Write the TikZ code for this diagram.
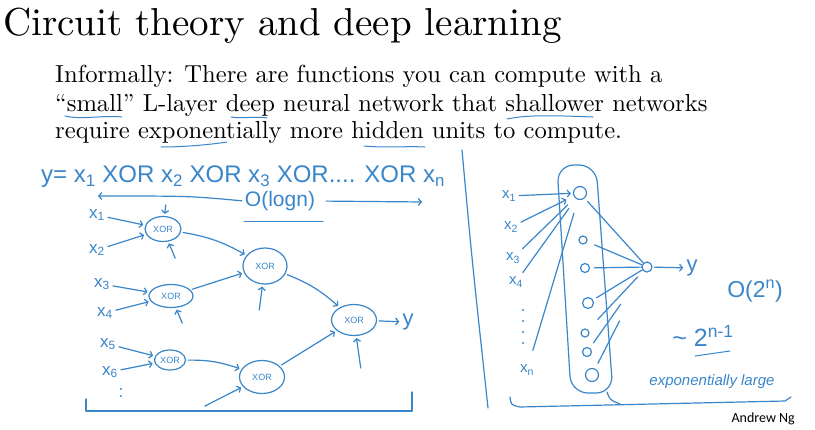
\documentclass[tikz,border=0pt]{standalone}
\usepackage{fontspec}
\usetikzlibrary{arrows.meta,shapes.geometric}
\newfontfamily\slidefont{lmroman10-regular}[Extension=.otf,Ligatures=TeX]
\newfontfamily\handfont{Liberation Sans}
\newfontfamily\credfont{Carlito}
\definecolor{pen}{HTML}{3A86CA}
\tikzset{ink/.style={draw=pen,line width=1.2pt,line cap=round,line join=round},
arr/.style={ink,-{Straight Barb[length=3pt,width=7pt]},shorten >=2pt,shorten <=2pt},
gate/.style={ellipse,ink,inner sep=0pt,text=pen,font=\handfont\fontsize{9}{9}\selectfont},
unit/.style={circle,ink,inner sep=0pt},
hand/.style={text=pen,inner sep=1pt,font=\handfont\fontsize{17}{17}\selectfont},
uline/.style={draw=pen,line width=1pt,line cap=round},
slide/.style={anchor=base west,inner sep=0pt,font=\slidefont\fontsize{24.6}{29}\selectfont}}
\begin{document}
\begin{tikzpicture}[x=1pt,y=-1pt]
\useasboundingbox[fill=white] (0,0) rectangle (815,429);
% slide text
\node[anchor=base west,inner sep=0pt,font=\slidefont\fontsize{39}{42}\selectfont] (title) at (3,35) {Circuit theory and deep learning};
\node[slide] (line1) at (55,82) {Informally: There are functions you can compute with a};
\node[slide] (line2) at (55,111) {``small'' L-layer deep neural network that shallower networks};
\node[slide] (line3) at (55,138) {require exponentially more hidden units to compute.};
\draw[uline] (65,116) .. controls (82,120) and (102,115) .. (122,117);
\draw[uline] (231,117) .. controls (243,119) and (256,116) .. (267,118);
\draw[uline] (507,119) .. controls (530,114) and (563,116) .. (593,117);
\draw[uline] (161,147) .. controls (183,147) and (207,145) .. (227,142);
\draw[uline] (364,146) .. controls (384,148) and (408,146) .. (425,147);
% left: tree of XOR gates
\node[hand,anchor=west,font=\handfont\fontsize{24}{24}\selectfont] (eqn) at (40,177) {y= x\textsubscript{1} XOR x\textsubscript{2} XOR x\textsubscript{3} XOR.... XOR x\textsubscript{n}};
\node[hand,font=\handfont\fontsize{21}{21}\selectfont] (depth) at (280,201) {O(logn)};
\coordinate (dleft) at (96,196);
\coordinate (dright) at (424,202);
\draw[arr] (depth.west) .. controls (190,196) .. (dleft);
\draw[arr,shorten <=10pt] (depth.east) -- (dright);
\draw[uline] (244,221) -- (323,221);
\node[hand] (x1) at (97,215) {x\textsubscript{1}};
\node[hand] (x2) at (97,250) {x\textsubscript{2}};
\node[hand] (x3) at (102,284) {x\textsubscript{3}};
\node[hand] (x4) at (105,313) {x\textsubscript{4}};
\node[hand] (x5) at (108,344) {x\textsubscript{5}};
\node[hand] (x6) at (110,372) {x\textsubscript{6}};
\node[hand] (xdots) at (121,393) {:};
\node[gate,minimum width=36pt,minimum height=25pt] (g1) at (163,229) {XOR};
\node[gate,minimum width=44pt,minimum height=23pt] (g2) at (171,296) {XOR};
\node[gate,minimum width=31pt,minimum height=20pt] (g3) at (170,360) {XOR};
\node[gate,minimum width=44pt,minimum height=36pt] (h1) at (265,266) {XOR};
\node[gate,minimum width=45pt,minimum height=33pt] (h2) at (262,377) {XOR};
\node[gate,minimum width=45pt,minimum height=31pt] (top) at (354,320) {XOR};
\node[hand,font=\handfont\fontsize{22}{22}\selectfont] (yout) at (408,322) {y};
\draw[arr] (x1) -- (g1);
\draw[arr] (x2) -- (g1);
\draw[arr] (x3) -- (g2);
\draw[arr] (x4) -- (g2);
\draw[arr] (x5) -- (g3);
\draw[arr] (x6) -- (g3);
\draw[arr] (g1) to[bend left=10] (h1);
\draw[arr] (g2) -- (h1);
\draw[arr] (g3) to[bend left=10] (h2);
\draw[arr] (h1) to[bend left=10] (top);
\draw[arr] (h2) -- (top);
\draw[arr] (top) -- (yout);
\coordinate (in1) at (166,203);
\coordinate (in2) at (176,260);
\coordinate (in3) at (183,325);
\coordinate (in4) at (259,312);
\coordinate (in5) at (203,407);
\coordinate (in6) at (361,370);
\draw[arr] (in1) -- (g1);
\draw[arr] (in2) -- (g1);
\draw[arr] (in3) -- (g2);
\draw[arr] (in4) -- (h1);
\draw[arr] (in5) -- (h2);
\draw[arr] (in6) -- (top);
\draw[ink] (86,399) -- (86,411) -- (412,411) -- (412,392);
% right: one wide hidden layer
\draw[ink] (462,150) .. controls (472,260) .. (488,408);
\draw[ink,rounded corners=17pt] (557,165) -- (596,165) -- (613,393) -- (571,393) -- cycle;
\node[unit,minimum size=13pt] (n1) at (580,193) {};
\node[unit,minimum size=8pt] (n2) at (583,240) {};
\node[unit,minimum size=9pt] (n3) at (585,268) {};
\node[unit,minimum size=11pt] (n4) at (588,303) {};
\node[unit,minimum size=8pt] (n5) at (585,333) {};
\node[unit,minimum size=9pt] (n6) at (587,352) {};
\node[unit,minimum size=13pt] (n7) at (592,375) {};
\node[hand,font=\handfont\fontsize{15}{15}\selectfont] (r1) at (509,196) {x\textsubscript{1}};
\node[hand,font=\handfont\fontsize{15}{15}\selectfont] (r2) at (511,227) {x\textsubscript{2}};
\node[hand,font=\handfont\fontsize{15}{15}\selectfont] (r3) at (513,258) {x\textsubscript{3}};
\node[hand,font=\handfont\fontsize{15}{15}\selectfont] (r4) at (516,282) {x\textsubscript{4}};
\node[hand,font=\handfont\fontsize{15}{15}\selectfont] (rn) at (527,370) {x\textsubscript{n}};
\foreach \y in {310,321,332,343} \fill[pen] (523,\y) circle (1.1pt);
\node[unit,minimum size=10pt] (out) at (647,267) {};
\node[hand,font=\handfont\fontsize{22}{22}\selectfont] (yr) at (692,268) {y};
\draw[arr] (r1) -- (n1);
\draw[arr,shorten >=8pt] (r2) -- (n1);
\draw[ink,shorten >=10pt,shorten <=4pt] (r3) -- (n1);
\draw[ink,shorten >=12pt,shorten <=4pt] (r4) -- (n1);
\draw[ink,shorten >=14pt,shorten <=14pt] (rn) -- (n1);
\draw[ink,shorten <=4pt] (n1) -- (out);
\draw[ink,shorten <=8pt] (n2) -- (out);
\draw[ink,shorten <=4pt] (n3) -- (out);
\draw[ink,shorten <=4pt] (n4) -- (out);
\draw[ink,shorten <=14pt,shorten >=8pt] (n5) -- (out);
\draw[ink,shorten <=6pt,shorten >=40pt] (n6) -- (out);
\draw[ink,shorten <=6pt,shorten >=55pt] (n7) -- (out);
\draw[arr] (out) -- (yr);
\node[hand,font=\handfont\fontsize{23}{23}\selectfont] (cost) at (755,291) {O(2\textsuperscript{n})};
\node[hand,font=\handfont\fontsize{25}{25}\selectfont] (approx) at (703,336) {\textasciitilde\ 2\textsuperscript{n-1}};
\draw[uline] (695,356) -- (730,351);
\node[hand,font=\handfont\itshape\fontsize{15}{15}\selectfont] (big) at (712,382) {exponentially large};
\draw[ink] (510,397) .. controls (511,405) .. (520,407) -- (785,401) -- (791,397);
\draw[ink] (607,392) .. controls (610,400) .. (620,404);
\node[anchor=south east,inner sep=0pt,font=\credfont\fontsize{14}{14}\selectfont] (credit) at (795,425) {Andrew Ng};
\end{tikzpicture}
\end{document}
